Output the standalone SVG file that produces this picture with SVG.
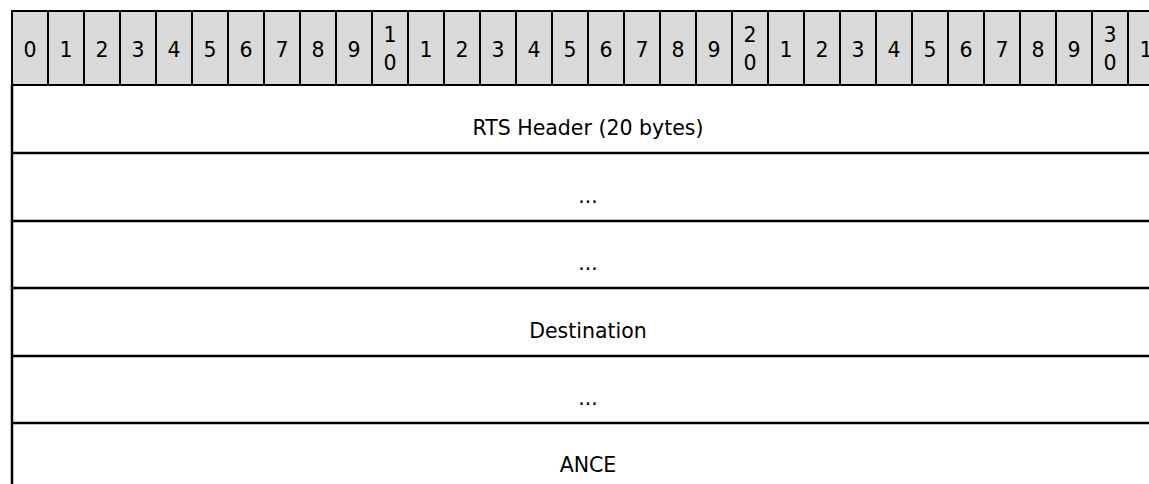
<svg xmlns="http://www.w3.org/2000/svg" width="1149" height="484" viewBox="0 0 1149 484">
<style>
.cell{fill:#d9d9d9;stroke:#000;stroke-width:2}
.num{font-family:"DejaVu Sans",Verdana,sans-serif;font-size:20.5px;fill:#000;text-anchor:middle}
.lbl{font-family:"DejaVu Sans",Verdana,sans-serif;font-size:20.5px;fill:#000;text-anchor:middle}
.ln{stroke:#000;stroke-width:2.5;fill:none}
</style>
<rect width="1149" height="484" fill="#fff"/>
<g id="bits">
<rect class="cell" x="12" y="11" width="36" height="74"/>
<text class="num" x="30" y="57">0</text>
<rect class="cell" x="48" y="11" width="36" height="74"/>
<text class="num" x="66" y="57">1</text>
<rect class="cell" x="84" y="11" width="36" height="74"/>
<text class="num" x="102" y="57">2</text>
<rect class="cell" x="120" y="11" width="36" height="74"/>
<text class="num" x="138" y="57">3</text>
<rect class="cell" x="156" y="11" width="36" height="74"/>
<text class="num" x="174" y="57">4</text>
<rect class="cell" x="192" y="11" width="36" height="74"/>
<text class="num" x="210" y="57">5</text>
<rect class="cell" x="228" y="11" width="36" height="74"/>
<text class="num" x="246" y="57">6</text>
<rect class="cell" x="264" y="11" width="36" height="74"/>
<text class="num" x="282" y="57">7</text>
<rect class="cell" x="300" y="11" width="36" height="74"/>
<text class="num" x="318" y="57">8</text>
<rect class="cell" x="336" y="11" width="36" height="74"/>
<text class="num" x="354" y="57">9</text>
<rect class="cell" x="372" y="11" width="36" height="74"/>
<text class="num" x="390" y="42">1</text><text class="num" x="390" y="70">0</text>
<rect class="cell" x="408" y="11" width="36" height="74"/>
<text class="num" x="426" y="57">1</text>
<rect class="cell" x="444" y="11" width="36" height="74"/>
<text class="num" x="462" y="57">2</text>
<rect class="cell" x="480" y="11" width="36" height="74"/>
<text class="num" x="498" y="57">3</text>
<rect class="cell" x="516" y="11" width="36" height="74"/>
<text class="num" x="534" y="57">4</text>
<rect class="cell" x="552" y="11" width="36" height="74"/>
<text class="num" x="570" y="57">5</text>
<rect class="cell" x="588" y="11" width="36" height="74"/>
<text class="num" x="606" y="57">6</text>
<rect class="cell" x="624" y="11" width="36" height="74"/>
<text class="num" x="642" y="57">7</text>
<rect class="cell" x="660" y="11" width="36" height="74"/>
<text class="num" x="678" y="57">8</text>
<rect class="cell" x="696" y="11" width="36" height="74"/>
<text class="num" x="714" y="57">9</text>
<rect class="cell" x="732" y="11" width="36" height="74"/>
<text class="num" x="750" y="42">2</text><text class="num" x="750" y="70">0</text>
<rect class="cell" x="768" y="11" width="36" height="74"/>
<text class="num" x="786" y="57">1</text>
<rect class="cell" x="804" y="11" width="36" height="74"/>
<text class="num" x="822" y="57">2</text>
<rect class="cell" x="840" y="11" width="36" height="74"/>
<text class="num" x="858" y="57">3</text>
<rect class="cell" x="876" y="11" width="36" height="74"/>
<text class="num" x="894" y="57">4</text>
<rect class="cell" x="912" y="11" width="36" height="74"/>
<text class="num" x="930" y="57">5</text>
<rect class="cell" x="948" y="11" width="36" height="74"/>
<text class="num" x="966" y="57">6</text>
<rect class="cell" x="984" y="11" width="36" height="74"/>
<text class="num" x="1002" y="57">7</text>
<rect class="cell" x="1020" y="11" width="36" height="74"/>
<text class="num" x="1038" y="57">8</text>
<rect class="cell" x="1056" y="11" width="36" height="74"/>
<text class="num" x="1074" y="57">9</text>
<rect class="cell" x="1092" y="11" width="36" height="74"/>
<text class="num" x="1110" y="42">3</text><text class="num" x="1110" y="70">0</text>
<rect class="cell" x="1128" y="11" width="36" height="74"/>
<text class="num" x="1146" y="57">1</text>
</g>
<g id="connectors">
<line class="ln" x1="12" y1="85" x2="12" y2="484"/>
<line class="ln" x1="12" y1="153" x2="1149" y2="153"/>
<line class="ln" x1="12" y1="221" x2="1149" y2="221"/>
<line class="ln" x1="12" y1="288" x2="1149" y2="288"/>
<line class="ln" x1="12" y1="356" x2="1149" y2="356"/>
<line class="ln" x1="12" y1="423" x2="1149" y2="423"/>
</g>
<g id="row1"><text class="lbl" x="588" y="135">RTS Header (20 bytes)</text></g>
<g id="row2"><text class="lbl" x="588" y="203">...</text></g>
<g id="row3"><text class="lbl" x="588" y="270">...</text></g>
<g id="row4"><text class="lbl" x="588" y="338">Destination</text></g>
<g id="row5"><text class="lbl" x="588" y="405">...</text></g>
<g id="row6"><text class="lbl" x="588" y="472">ANCE</text></g>
</svg>
